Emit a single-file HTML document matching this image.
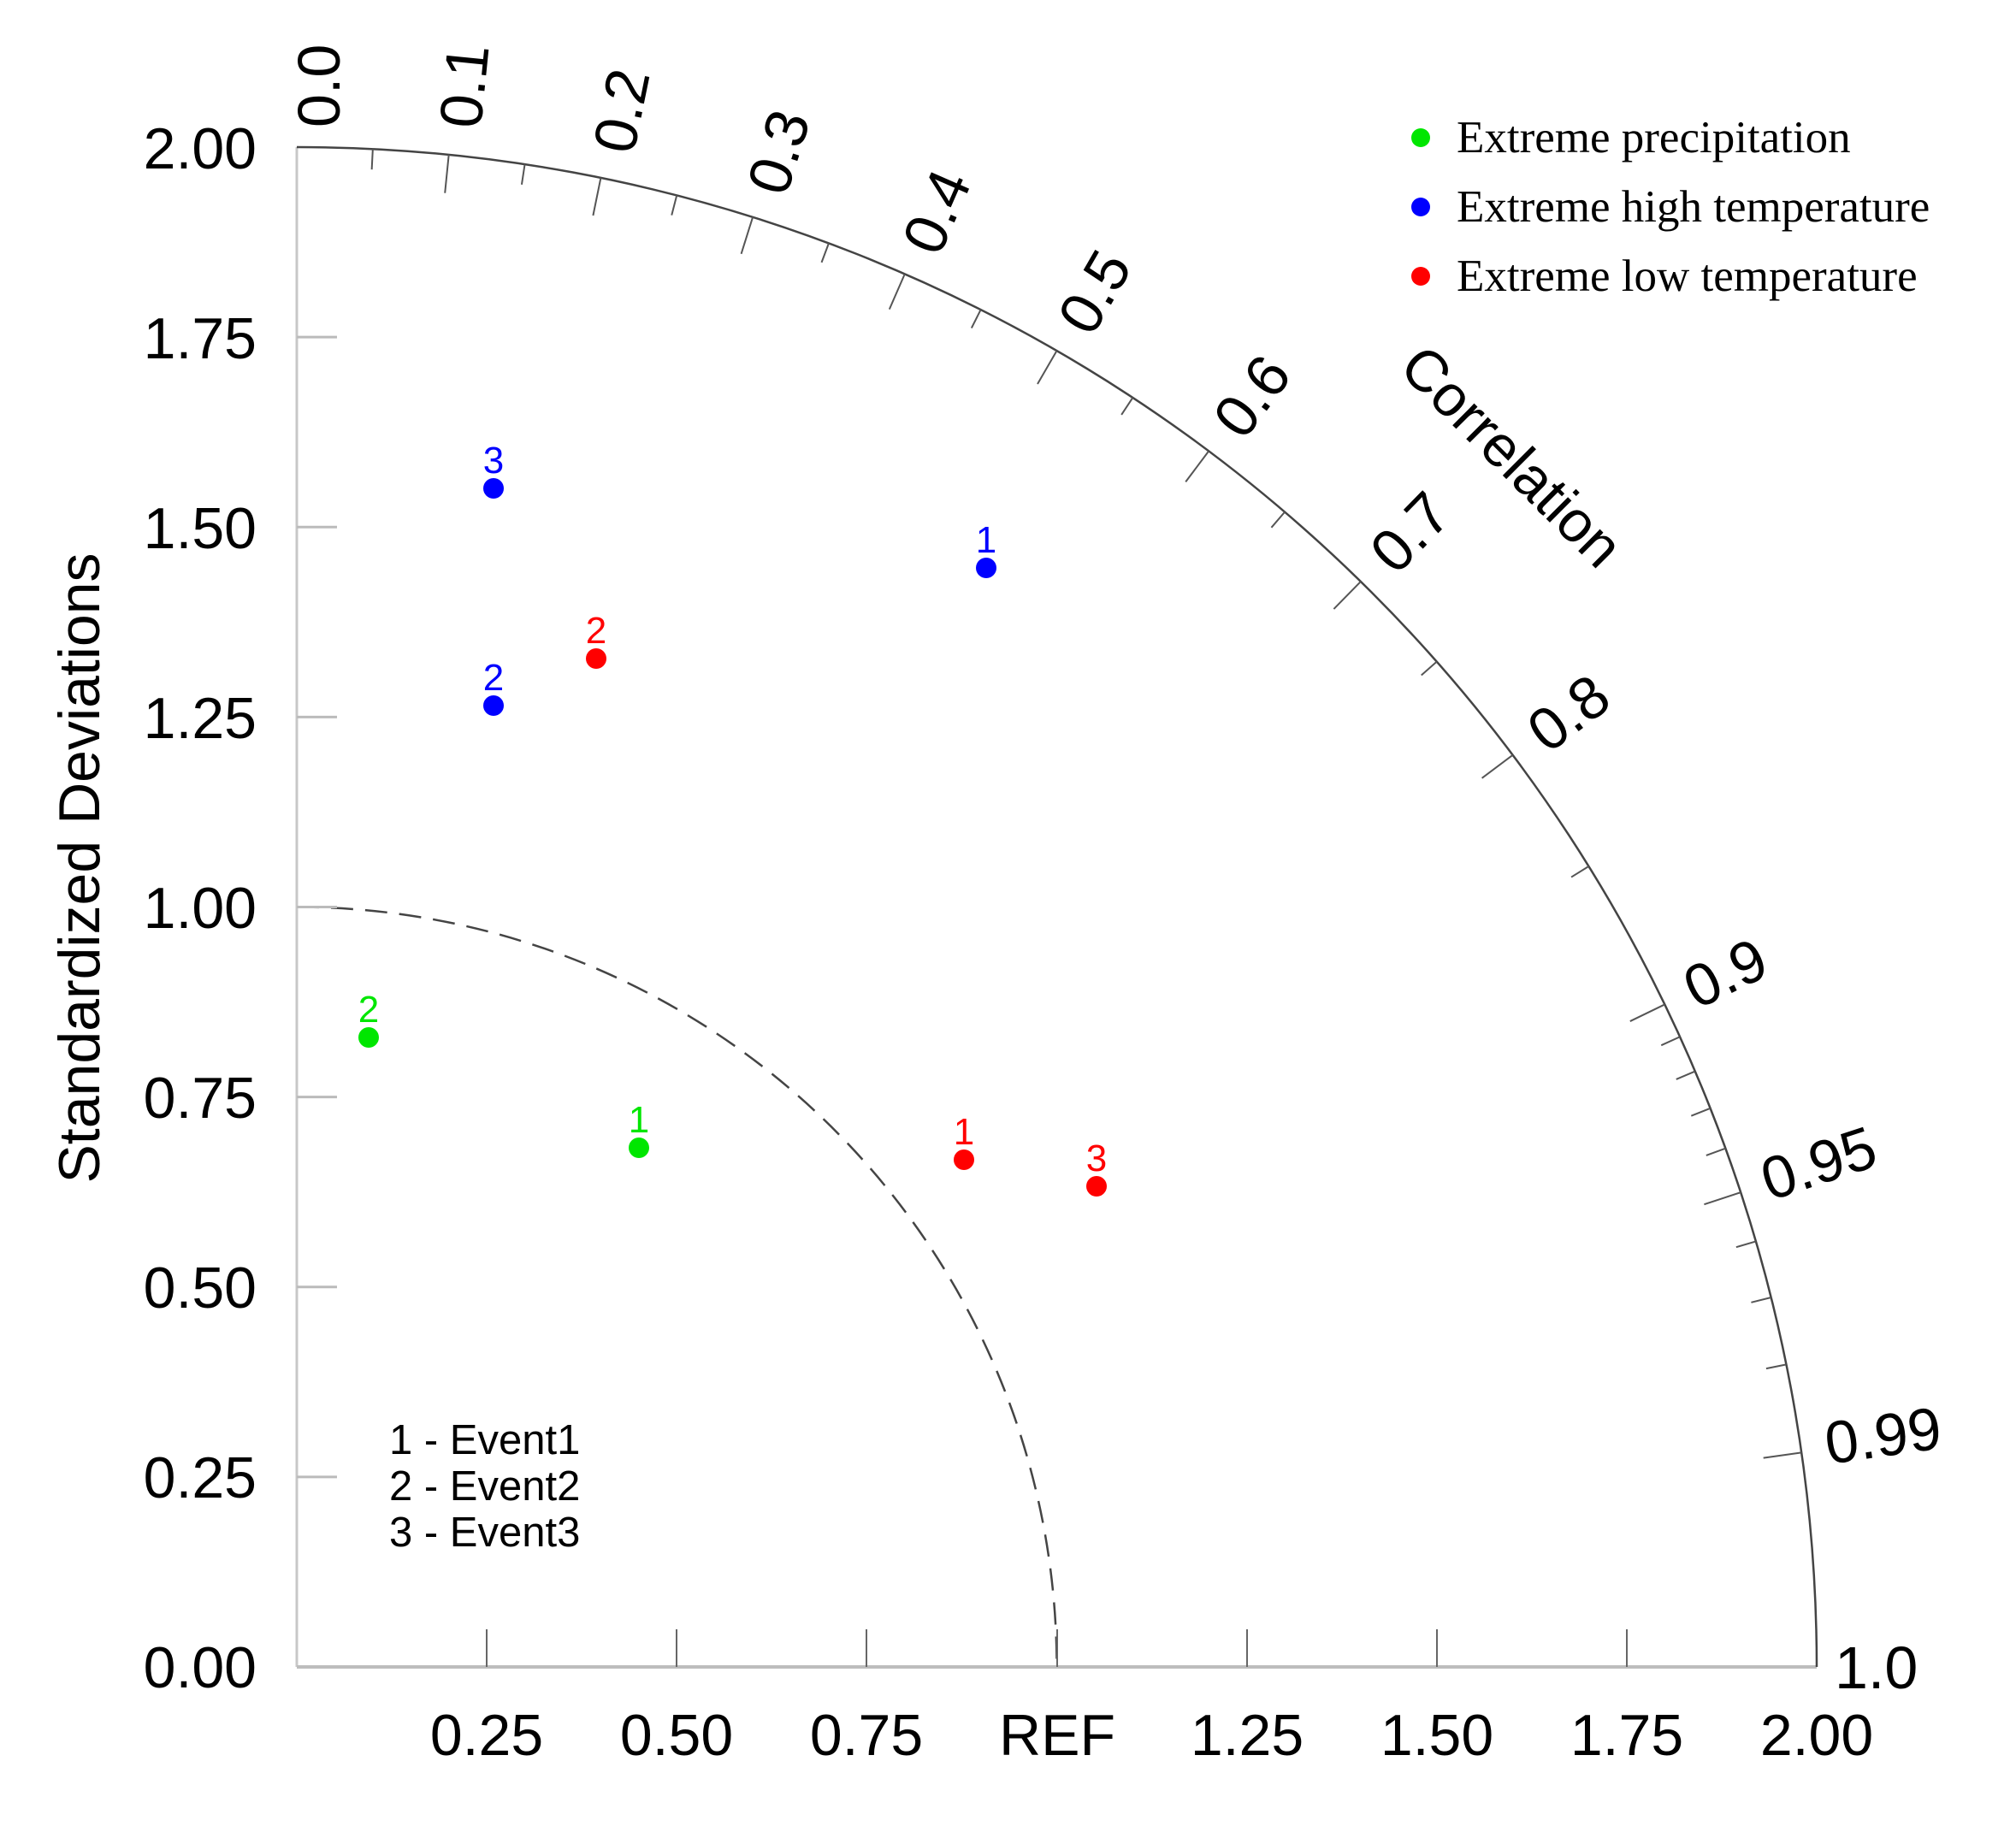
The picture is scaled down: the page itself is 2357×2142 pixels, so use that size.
<!DOCTYPE html>
<html><head><meta charset="utf-8"><style>
html,body{margin:0;padding:0;background:#fff}
svg{display:block}
</style></head><body>
<svg id="s" width="2357" height="2142" viewBox="0 0 2357 2142" xmlns="http://www.w3.org/2000/svg" font-family="Liberation Sans, sans-serif">
<rect width="2357" height="2142" fill="#fff"/>
<line x1="347" y1="1949" x2="347" y2="172" stroke="#c8c8c8" stroke-width="3"/>
<line x1="347" y1="1949" x2="2124" y2="1949" stroke="#bdbdbd" stroke-width="4"/>
<path d="M347,172 A1777,1777 0 0 1 2124,1949" fill="none" stroke="#444" stroke-width="2.5"/>
<path d="M347,1060.5 A888.5,888.5 0 0 1 1235.5,1949" fill="none" stroke="#444" stroke-width="2.5" stroke-dasharray="26,14"/>
<g id="ticks" stroke="#555" stroke-width="2"></g>
<g stroke="#bbb" stroke-width="3">
<line x1="347" y1="1726.9" x2="394" y2="1726.9"/><line x1="347" y1="1504.8" x2="394" y2="1504.8"/>
<line x1="347" y1="1282.6" x2="394" y2="1282.6"/><line x1="347" y1="1060.5" x2="394" y2="1060.5"/>
<line x1="347" y1="838.4" x2="394" y2="838.4"/><line x1="347" y1="616.3" x2="394" y2="616.3"/>
<line x1="347" y1="394.1" x2="394" y2="394.1"/>
</g>
<g stroke="#666" stroke-width="2">
<line x1="569" y1="1949" x2="569" y2="1905"/><line x1="791" y1="1949" x2="791" y2="1905"/>
<line x1="1013" y1="1949" x2="1013" y2="1905"/><line x1="1236" y1="1949" x2="1236" y2="1905"/>
<line x1="1458" y1="1949" x2="1458" y2="1905"/><line x1="1680" y1="1949" x2="1680" y2="1905"/>
<line x1="1902" y1="1949" x2="1902" y2="1905"/>
</g>
<g font-size="68" text-anchor="end" fill="#000">
<text x="300" y="1973">0.00</text><text x="300" y="1751">0.25</text><text x="300" y="1529">0.50</text>
<text x="300" y="1307">0.75</text><text x="300" y="1085">1.00</text><text x="300" y="863">1.25</text>
<text x="300" y="641">1.50</text><text x="300" y="419">1.75</text><text x="300" y="197">2.00</text>
</g>
<g font-size="68" text-anchor="middle" fill="#000">
<text x="569" y="2052">0.25</text><text x="791" y="2052">0.50</text><text x="1013" y="2052">0.75</text>
<text x="1236" y="2052">REF</text><text x="1458" y="2052">1.25</text><text x="1680" y="2052">1.50</text>
<text x="1902" y="2052">1.75</text><text x="2124" y="2052">2.00</text>
</g>
<text transform="translate(116,1015) rotate(-90)" font-size="68" text-anchor="middle">Standardized Deviations</text>
<g font-size="70" fill="#000">
<text transform="translate(347,1949) rotate(-90)" x="1800" y="50">0.0</text>
<text transform="translate(347,1949) rotate(-84.26)" x="1810" y="34">0.1</text>
<text transform="translate(347,1949) rotate(-78.46)" x="1810" y="32">0.2</text>
<text transform="translate(347,1949) rotate(-72.54)" x="1810" y="30">0.3</text>
<text transform="translate(347,1949) rotate(-66.42)" x="1810" y="29">0.4</text>
<text transform="translate(347,1949) rotate(-60)" x="1810" y="28">0.5</text>
<text transform="translate(347,1949) rotate(-53.13)" x="1810" y="26">0.6</text>
<text transform="translate(347,1949) rotate(-45.57)" x="1810" y="25">0.7</text>
<text transform="translate(347,1949) rotate(-36.87)" x="1810" y="24">0.8</text>
<text transform="translate(347,1949) rotate(-25.84)" x="1808" y="22">0.9</text>
<text transform="translate(347,1949) rotate(-18.19)" x="1806" y="20">0.95</text>
<text transform="translate(347,1949) rotate(-8.11)" x="1806" y="18">0.99</text>
<text transform="translate(347,1949)" x="1798" y="25">1.0</text>
</g>
<text transform="translate(1768,533) rotate(45)" font-size="68" text-anchor="middle" dy="24">Correlation</text>
<g font-family="Liberation Serif, serif" font-size="53">
<circle cx="1661" cy="161" r="11" fill="#00e600"/><text x="1703" y="178">Extreme precipitation</text>
<circle cx="1661" cy="242" r="11" fill="#0000ff"/><text x="1703" y="259">Extreme high temperature</text>
<circle cx="1661" cy="323" r="11" fill="#ff0000"/><text x="1703" y="340">Extreme low temperature</text>
</g>
<g font-size="49">
<text x="455" y="1700">1 - Event1</text>
<text x="455" y="1754">2 - Event2</text>
<text x="455" y="1808">3 - Event3</text>
</g>
<g font-size="44" text-anchor="middle">
<circle cx="747" cy="1342" r="12" fill="#00e600"/><text x="747" y="1324" fill="#00e600">1</text>
<circle cx="431" cy="1213" r="12" fill="#00e600"/><text x="431" y="1195" fill="#00e600">2</text>
<circle cx="1153" cy="664" r="12" fill="#0000ff"/><text x="1153" y="646" fill="#0000ff">1</text>
<circle cx="577" cy="825" r="12" fill="#0000ff"/><text x="577" y="807" fill="#0000ff">2</text>
<circle cx="577" cy="571" r="12" fill="#0000ff"/><text x="577" y="553" fill="#0000ff">3</text>
<circle cx="1127" cy="1356" r="12" fill="#ff0000"/><text x="1127" y="1338" fill="#ff0000">1</text>
<circle cx="697" cy="770" r="12" fill="#ff0000"/><text x="697" y="752" fill="#ff0000">2</text>
<circle cx="1282" cy="1387" r="12" fill="#ff0000"/><text x="1282" y="1369" fill="#ff0000">3</text>
</g>
</svg>
<script>
(function(){
var g=document.getElementById('ticks'),ox=347,oy=1949,R=1777,ns='http://www.w3.org/2000/svg';
var vals=[];
for(var i=1;i<=18;i++)vals.push([i*0.05,i%2==0?45:24]);
[0.91,0.92,0.93,0.94,0.96,0.97,0.98].forEach(function(v){vals.push([v,24]);});
vals.push([0.95,45]);vals.push([0.99,45]);
vals.forEach(function(p){var t=Math.acos(p[0]),c=Math.cos(t),s=Math.sin(t);
var l=document.createElementNS(ns,'line');
l.setAttribute('x1',ox+R*c);l.setAttribute('y1',oy-R*s);
l.setAttribute('x2',ox+(R-p[1])*c);l.setAttribute('y2',oy-(R-p[1])*s);g.appendChild(l);});
})();
</script>
</body></html>
